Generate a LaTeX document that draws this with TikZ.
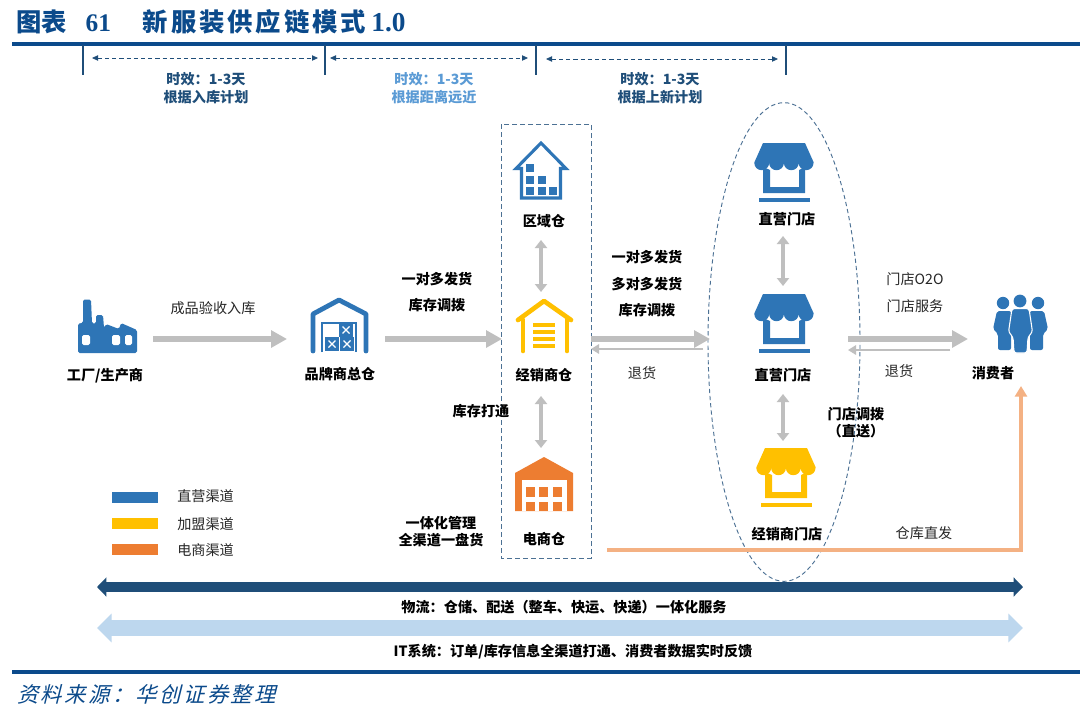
\documentclass[tikz,border=0pt]{standalone}
\usepackage{fontspec}
\usetikzlibrary{arrows.meta,shapes.geometric}
\setmainfont{Noto Sans CJK SC}
\newfontfamily\serifl{Liberation Serif}[BoldFont={Liberation Serif Bold}]
\newfontfamily\cjkslant[FakeSlant=0.25]{Noto Sans CJK SC}
\newcommand{\fwcolon}{\char"FF1A\relax}
\newcommand{\fwopen}{\char"FF08\relax}
\newcommand{\fwclose}{\char"FF09\relax}
\definecolor{navy}{HTML}{0B4A8B}
\definecolor{steel}{HTML}{1F4E79}
\definecolor{iconblue}{HTML}{2E75B6}
\definecolor{sky}{HTML}{5B9BD5}
\definecolor{amber}{HTML}{FFC000}
\definecolor{tang}{HTML}{ED7D31}
\definecolor{peach}{HTML}{F4B183}
\definecolor{pale}{HTML}{BDD7EE}
\definecolor{darkbar}{HTML}{1F4E79}
\definecolor{shaft}{HTML}{BFBFBF}
\tikzset{
  lbl/.style={font=\fontsize{10.6}{12}\selectfont,text=black!85,inner sep=0pt},
  blbl/.style={font=\fontsize{10.6}{12}\selectfont\bfseries,text=black,inner sep=0pt},
  timelbl/.style={font=\fontsize{10.6}{12}\selectfont\bfseries,text=steel,inner sep=0pt},
  timelblb/.style={font=\fontsize{10.6}{12}\selectfont\bfseries,text=sky,inner sep=0pt},
  tick/.style={draw=steel,line width=2.1pt},
  rulebar/.style={draw=navy,line width=2.8pt},
  spanarrow/.style={draw=steel,line width=0.6pt,dash pattern=on 3.2pt off 2.2pt,{Triangle[length=4.5pt,width=4pt]}-{Triangle[length=4.5pt,width=4pt]}},
  bigflow/.style={draw=shaft,line width=4.2pt,-{Triangle[length=12pt,width=12.5pt]}},
  vflow/.style={draw=shaft,line width=3.6pt,{Triangle[length=6pt,width=9pt]}-{Triangle[length=6pt,width=9pt]}},
  backflow/.style={draw=shaft,line width=1.4pt,-{Triangle[length=6pt,width=7pt]}},
  bandnavy/.style={draw=darkbar,line width=6.8pt,{Triangle[length=7pt,width=14pt]}-{Triangle[length=7pt,width=14pt]}},
  bandpale/.style={draw=pale,line width=11.5pt,{Triangle[length=11pt,width=21pt]}-{Triangle[length=11pt,width=21pt]}},
  directline/.style={draw=peach,line width=2.8pt,-{Triangle[length=8pt,width=9pt]}},
  legendbar/.style={minimum width=34.5pt,minimum height=8.2pt,inner sep=0pt,draw=none},
}
% store icon: #1 centre x, #2 top y, #3 colour
\newcommand{\storeicon}[3]{%
\begin{scope}[shift={(#1,#2)}]
  \fill[#3] (-21,0) -- (21,0) -- (29.5,19) -- (29.5,20)
     arc[start angle=0,end angle=180,x radius=7.4,y radius=7.2]
     arc[start angle=0,end angle=180,x radius=7.4,y radius=7.2]
     arc[start angle=0,end angle=180,x radius=7.4,y radius=7.2]
     arc[start angle=0,end angle=180,x radius=7.4,y radius=7.2]
     -- (-29.5,19) -- cycle;
  \fill[#3] (-21,24) -- (-14,27) -- (-14,44) -- (15,44) -- (15,27) -- (21,24) -- (21,50) -- (-21,50) -- cycle;
  \fill[#3] (-25.5,55) rectangle (25.5,59);
\end{scope}}
\begin{document}
\begin{tikzpicture}[x=0.75pt,y=-0.75pt]
\useasboundingbox (0,0) rectangle (1080,721);
\fill[white] (0,0) rectangle (1080,721);

% title and rules
\node[anchor=west,inner sep=0pt,text=navy] (title) at (16,22)
  {\fontsize{19}{22}\selectfont\bfseries 图表\hspace{14pt}{\serifl 61}\hspace{24pt}新\hspace{2.2pt}服\hspace{2.2pt}装\hspace{2.2pt}供\hspace{2.2pt}应\hspace{2.2pt}链\hspace{2.2pt}模\hspace{2.2pt}式\hspace{4pt}{\fontsize{20.5}{22}\selectfont\serifl 1.0}};
\coordinate (topL) at (12,44); \coordinate (topR) at (1080,44);
\draw[rulebar] (topL) -- (topR);
\coordinate (botL) at (12,672); \coordinate (botR) at (1080,672);
\draw[rulebar] (botL) -- (botR);
\node[anchor=west,inner sep=0pt,text=navy] (source) at (17,694)
  {\fontsize{16}{18}\selectfont\cjkslant 资\hspace{1.8pt}料\hspace{1.8pt}来\hspace{1.8pt}源\hspace{1.8pt}\fwcolon\hspace{1.8pt}华\hspace{1.8pt}创\hspace{1.8pt}证\hspace{1.8pt}券\hspace{1.8pt}整\hspace{1.8pt}理};

% time spans
\foreach \n/\x in {t1/83,t2/325,t3/536,t4/786}{
  \coordinate (\n a) at (\x,45); \coordinate (\n b) at (\x,75);
  \draw[tick] (\n a) -- (\n b);
}
\coordinate (s1a) at (92,58); \coordinate (s1b) at (318,58);
\coordinate (s2a) at (330,58); \coordinate (s2b) at (528,58);
\coordinate (s3a) at (546,59); \coordinate (s3b) at (778,59);
\draw[spanarrow] (s1a) -- (s1b);
\draw[spanarrow] (s2a) -- (s2b);
\draw[spanarrow] (s3a) -- (s3b);
\node[timelbl] (tl1) at (206,79) {时效\fwcolon 1-3天};
\node[timelbl] (tl1b) at (206,97) {根据入库计划};
\node[timelblb] (tl2) at (434,79) {时效\fwcolon 1-3天};
\node[timelblb] (tl2b) at (434,97) {根据距离远近};
\node[timelbl] (tl3) at (660,79) {时效\fwcolon 1-3天};
\node[timelbl] (tl3b) at (660,97) {根据上新计划};

% groups
\draw[draw=steel!80,line width=0.7pt,dash pattern=on 3.5pt off 2.5pt] (501,124) rectangle (591,558);
\node[draw=steel!80,line width=0.7pt,dash pattern=on 3.2pt off 2.2pt,ellipse,minimum width=114pt,minimum height=359pt,inner sep=0pt] (oval) at (784,342) {};

% factory
\fill[iconblue,rounded corners=1.2pt] (78,353) -- (78,323.5) -- (83,323) -- (83,299.5) -- (91,299.5) -- (92,323.5) -- (96,323.5) -- (96,315) -- (103,315) -- (104,328) -- (106,324) -- (119,329) -- (121,323) -- (137,330) -- (137,353) -- cycle;
\fill[white,rounded corners=1.2pt] (82,335) rectangle (90,345);
\fill[white,rounded corners=1.2pt] (112,335) rectangle (120,345);
\fill[white,rounded corners=1.2pt] (125,335) rectangle (132,345);

% brand warehouse
\draw[iconblue,line width=3.6pt,line join=round,line cap=round] (313,351) -- (313,314) -- (339,300) -- (366,314) -- (366,351);
\draw[iconblue,line width=2pt] (322,352) -- (322,323) -- (356,323) -- (356,352);
\foreach \bx/\by in {325/337,340/337,339/323}{
  \fill[iconblue] (\bx,\by) rectangle ++(14,14);
  \draw[white,line width=1pt] (\bx+3.5,\by+3.5) -- ++(7,7) (\bx+10.5,\by+3.5) -- ++(-7,7);
}

% regional warehouse
\draw[iconblue,line width=2.3pt,line join=miter] (541,143) -- (566,168.5) -- (560.5,168.5) -- (560.5,198) -- (521.5,198) -- (521.5,168.5) -- (516,168.5) -- cycle;
\foreach \bx/\by in {526/164,526/175.5,526/187,537.5/175.5,537.5/187,549/187}{
  \fill[iconblue] (\bx,\by) rectangle ++(8,8);
}

% dealer warehouse
\draw[amber,line width=3.5pt,line cap=round,line join=round] (518,320) -- (544,301) -- (571,320);
\draw[amber,line width=3.5pt,line cap=round] (523,320) -- (523,351);
\draw[amber,line width=3.5pt,line cap=round] (567,320) -- (567,351);
\foreach \by in {325,332,339,346}{\fill[amber] (533,\by-1.6) rectangle (555,\by+1.6);}

% e-commerce warehouse
\fill[tang] (544,457) -- (573,473) -- (573,511) -- (515,511) -- (515,473) -- cycle;
\fill[white] (522,480) rectangle (567,511);
\foreach \bx in {526,539,553}{
  \fill[tang] (\bx,487) rectangle ++(9,10);
  \fill[tang] (\bx,502) rectangle ++(9,9);
}

% stores
\storeicon{784}{143}{iconblue}
\storeicon{784}{294}{iconblue}
\storeicon{786}{448}{amber}

% consumers
\fill[iconblue] (1003,303) circle[radius=6.2];
\fill[iconblue] (1038,303) circle[radius=6.2];
\fill[iconblue,rounded corners=1.5pt] (997,311) -- (1011,311) -- (1011,350) -- (998,350) -- (998,334) -- (993,329) -- cycle;
\fill[iconblue,rounded corners=1.5pt] (1044,311) -- (1030,311) -- (1030,350) -- (1043,350) -- (1043,334) -- (1048,329) -- cycle;
\fill[iconblue] (1020,301) circle[radius=6.4];
\filldraw[fill=iconblue,draw=white,line width=0.8pt,rounded corners=2pt] (1012,308.5) -- (1029,308.5) -- (1032.5,332) -- (1028,337) -- (1027,353) -- (1014,353) -- (1013,337) -- (1008.5,332) -- cycle;

% node labels
\node[blbl] (factory) at (105,376) {工厂/生产商};
\node[blbl] (brand) at (340,374) {品牌商总仓};
\node[blbl] (region) at (544,221) {区域仓};
\node[blbl] (dealer) at (544,375) {经销商仓};
\node[blbl] (ecom) at (544,539) {电商仓};
\node[blbl] (store1) at (787,219) {直营门店};
\node[blbl] (store2) at (783,375) {直营门店};
\node[blbl] (store3) at (787,534) {经销商门店};
\node[blbl] (buyer) at (993,373) {消费者};

% flows
\coordinate (f1a) at (153,339); \coordinate (f1b) at (287,339);
\coordinate (f2a) at (385,339); \coordinate (f2b) at (502,339);
\coordinate (f3a) at (591,339); \coordinate (f3b) at (710,339);
\coordinate (f4a) at (848,339); \coordinate (f4b) at (968,339);
\coordinate (r3a) at (703,349); \coordinate (r3b) at (591,349);
\coordinate (r4a) at (950,350); \coordinate (r4b) at (848,350);
\draw[bigflow] (f1a) -- (f1b);
\draw[bigflow] (f2a) -- (f2b);
\draw[bigflow] (f3a) -- (f3b);
\draw[bigflow] (f4a) -- (f4b);
\draw[backflow] (r3a) -- (r3b);
\draw[backflow] (r4a) -- (r4b);
\coordinate (v1a) at (541,240); \coordinate (v1b) at (541,292);
\coordinate (v2a) at (541,396); \coordinate (v2b) at (541,448);
\coordinate (v3a) at (783,236); \coordinate (v3b) at (783,286);
\coordinate (v4a) at (783,394); \coordinate (v4b) at (783,441);
\draw[vflow] (v1a) -- (v1b);
\draw[vflow] (v2a) -- (v2b);
\draw[vflow] (v3a) -- (v3b);
\draw[vflow] (v4a) -- (v4b);
\coordinate (d1) at (607,550); \coordinate (d2) at (1021,550); \coordinate (d3) at (1021,386);
\draw[directline] (d1) -- (d2) -- (d3);

% flow labels
\node[lbl] (x1) at (213,308) {成品验收入库};
\node[blbl] (x2) at (437,279) {一对多发货};
\node[blbl] (x3) at (437,305) {库存调拨};
\node[blbl] (x4) at (647,257) {一对多发货};
\node[blbl] (x5) at (647,284) {多对多发货};
\node[blbl] (x6) at (647,310) {库存调拨};
\node[lbl] (x7) at (642,373) {退货};
\node[lbl] (x8) at (915,279) {门店O2O};
\node[lbl] (x9) at (915,306) {门店服务};
\node[lbl] (x10) at (899,371) {退货};
\node[blbl] (x11) at (481,411) {库存打通};
\node[blbl] (x12) at (856,414) {门店调拨};
\node[blbl] (x13) at (856,431) {\fwopen 直送\fwclose};
\node[blbl] (x14) at (441,523) {一体化管理};
\node[blbl] (x15) at (441,540) {全渠道一盘货};
\node[lbl] (x16) at (924,533) {仓库直发};

% legend
\node[legendbar,fill=iconblue] (lg1) at (135,497.5) {};
\node[legendbar,fill=amber] (lg2) at (135,523.5) {};
\node[legendbar,fill=tang] (lg3) at (135,549.5) {};
\node[lbl,anchor=west] (lt1) at (177,496) {直营渠道};
\node[lbl,anchor=west] (lt2) at (177,524) {加盟渠道};
\node[lbl,anchor=west] (lt3) at (177,550) {电商渠道};

% bands
\coordinate (b1a) at (97,587); \coordinate (b1b) at (1023,587);
\coordinate (b2a) at (97,628); \coordinate (b2b) at (1023,628);
\draw[bandnavy] (b1a) -- (b1b);
\draw[bandpale] (b2a) -- (b2b);
\node[blbl] (b1t) at (564,607) {物流\fwcolon 仓储、配送\fwopen 整车、快运、快递\fwclose 一体化服务};
\node[blbl] (b2t) at (573,652) {IT系统\fwcolon 订单/库存信息全渠道打通、消费者数据实时反馈};
\end{tikzpicture}
\end{document}
